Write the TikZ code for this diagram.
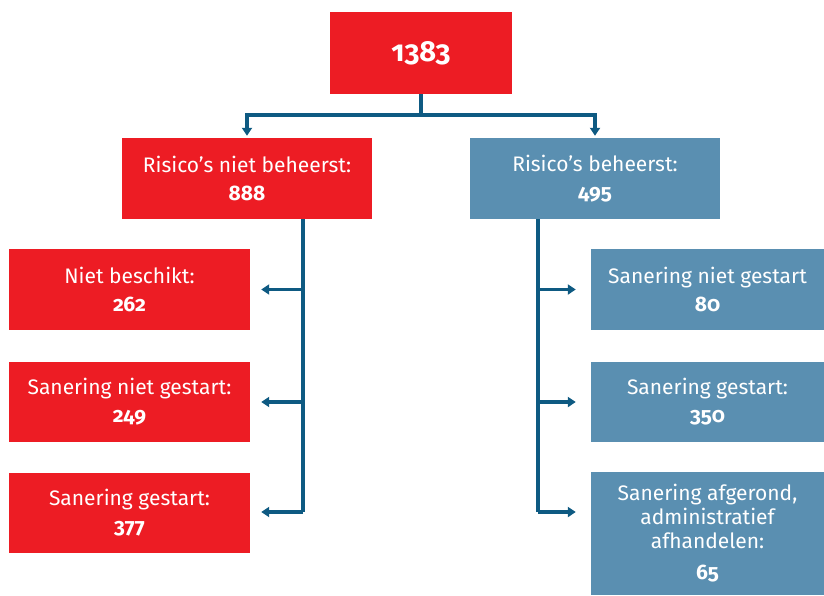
\documentclass[tikz,border=0pt]{standalone}
\usepackage{fontspec}
\setmainfont{Fira Sans}[Numbers=OldStyle]
\usetikzlibrary{arrows.meta}
\definecolor{rd}{HTML}{ED1C24}
\definecolor{bl}{HTML}{5A8FB1}
\definecolor{ln}{HTML}{0E5A82}
\tikzset{
  box/.style={rectangle, inner sep=0pt, text=white, align=center, font=\fontsize{21}{28}\selectfont},
  redbox/.style={box, fill=rd},
  bluebox/.style={box, fill=bl},
  conn/.style={draw=ln, line width=3.5pt},
  arr/.style={conn, -{Triangle[length=8pt,width=10pt]}},
}
\begin{document}
\begin{tikzpicture}[x=1pt,y=-1pt]
\useasboundingbox (0,0) rectangle (824,595);
\node[redbox, minimum width=182pt, minimum height=82pt, font=\fontsize{29}{34}\selectfont\bfseries] (top) at (421,53) {1383};
\node[redbox, minimum width=250pt, minimum height=81pt] (a) at (247,178.5) {Risico’s niet beheerst:\\\textbf{888}};
\node[bluebox, minimum width=250pt, minimum height=81pt] (b) at (595,178.5) {Risico’s beheerst:\\\textbf{495}};
\node[redbox, minimum width=241pt, minimum height=81pt] (a1) at (129.5,289.5) {Niet beschikt:\\\textbf{262}};
\node[redbox, minimum width=241pt, minimum height=80pt] (a2) at (129.5,402) {Sanering niet gestart:\\\textbf{249}};
\node[redbox, minimum width=241pt, minimum height=80pt] (a3) at (129.5,513) {Sanering gestart:\\\textbf{377}};
\node[bluebox, minimum width=233pt, minimum height=81pt] (b1) at (707.5,289.5) {Sanering niet gestart\\\textbf{80}};
\node[bluebox, minimum width=233pt, minimum height=80pt] (b2) at (707.5,402) {Sanering gestart:\\\textbf{350}};
\node[bluebox, minimum width=233pt, minimum height=123pt, font=\fontsize{21}{24}\selectfont] (b3) at (707.5,533.5) {Sanering afgerond,\\administratief\\afhandelen:\\[7pt]\textbf{65}};
% top connectors
\coordinate (j) at (421,115);
\draw[conn] (top.south) -- (j);
\draw[arr, shorten >=2pt] (j) -| (a.north);
\draw[arr, shorten >=2pt] (j) -| (b.north);
% left trunk
\coordinate (ta) at (303,219);
\coordinate (te) at (303,512);
\draw[conn] (ta) -- (te);
\draw[arr, shorten >=11pt] (ta |- a1.east) -- (a1.east);
\draw[arr, shorten >=11pt] (ta |- a2.east) -- (a2.east);
\draw[arr, shorten >=11pt] (te) -- (te -| a3.east);
% right trunk
\coordinate (tb) at (538,219);
\coordinate (tf) at (538,512);
\draw[conn] (tb) -- (tf);
\draw[arr, shorten >=15pt] (tb |- b1.west) -- (b1.west);
\draw[arr, shorten >=15pt] (tb |- b2.west) -- (b2.west);
\draw[arr, shorten >=15pt] (tf) -- (tf -| b3.west);
\end{tikzpicture}
\end{document}
